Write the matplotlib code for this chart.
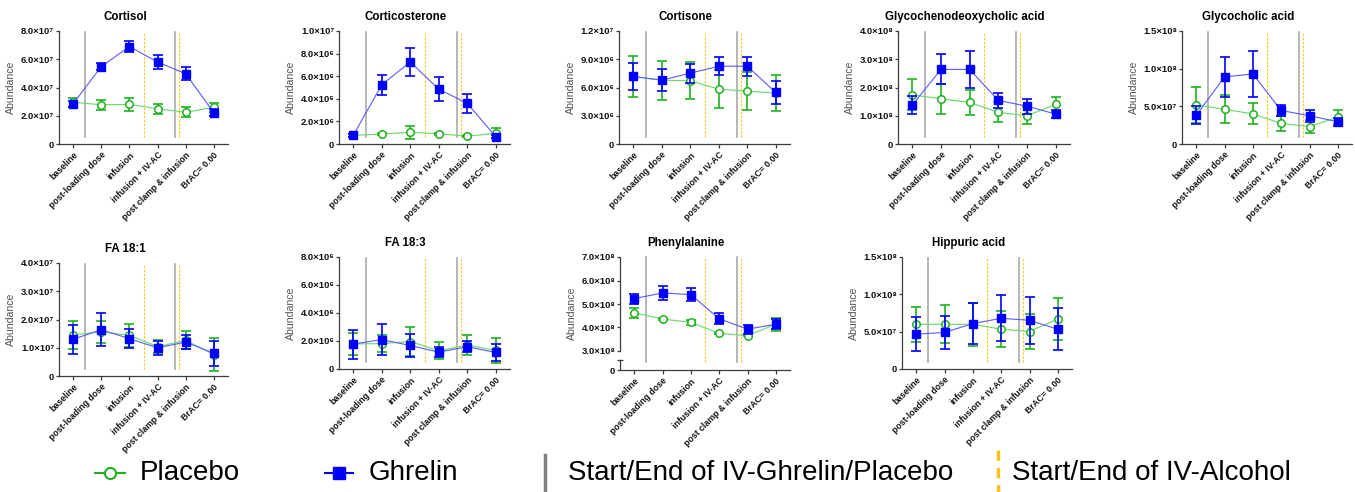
import numpy as np
import matplotlib.pyplot as plt
from matplotlib.lines import Line2D

plt.rcParams['font.family'] = ['Liberation Sans', 'DejaVu Sans']

timepoints = ['baseline', 'post-loading dose', 'infusion', 'infusion + IV-AC',
              'post clamp & infusion', 'BrAC= 0.00']

# mean / error per metabolite
cortisol_placebo = np.array([2.95, 2.78, 2.80, 2.50, 2.24, 2.60]) * 1e7
cortisol_placebo_err = np.array([0.30, 0.35, 0.45, 0.35, 0.35, 0.30]) * 1e7
cortisol_ghrelin = np.array([2.85, 5.48, 6.90, 5.80, 4.97, 2.20]) * 1e7
cortisol_ghrelin_err = np.array([0.20, 0.22, 0.42, 0.48, 0.45, 0.25]) * 1e7

corticosterone_placebo = np.array([0.76, 0.88, 1.03, 0.91, 0.68, 0.97]) * 1e6
corticosterone_placebo_err = np.array([0.10, 0.10, 0.55, 0.10, 0.10, 0.45]) * 1e6
corticosterone_ghrelin = np.array([0.76, 5.24, 7.26, 4.85, 3.60, 0.65]) * 1e6
corticosterone_ghrelin_err = np.array([0.12, 0.88, 1.25, 1.05, 0.82, 0.15]) * 1e6

cortisone_placebo = np.array([7.17, 6.78, 6.71, 5.82, 5.61, 5.40]) * 1e6
cortisone_placebo_err = np.array([2.15, 2.07, 1.97, 2.00, 2.00, 1.90]) * 1e6
cortisone_ghrelin = np.array([7.17, 6.78, 7.52, 8.26, 8.26, 5.47]) * 1e6
cortisone_ghrelin_err = np.array([1.48, 1.20, 0.99, 0.95, 1.00, 1.20]) * 1e6

gcdca_placebo = np.array([1.74, 1.60, 1.47, 1.12, 1.00, 1.40]) * 1e8
gcdca_placebo_err = np.array([0.55, 0.53, 0.44, 0.35, 0.30, 0.26]) * 1e8
gcdca_ghrelin = np.array([1.38, 2.64, 2.64, 1.54, 1.34, 1.06]) * 1e8
gcdca_ghrelin_err = np.array([0.32, 0.53, 0.66, 0.28, 0.27, 0.15]) * 1e8

glycocholic_placebo = np.array([5.20, 4.60, 4.00, 2.73, 2.30, 3.57]) * 1e7
glycocholic_placebo_err = np.array([2.40, 1.85, 1.40, 0.95, 0.85, 0.88]) * 1e7
glycocholic_ghrelin = np.array([3.80, 8.90, 9.30, 4.45, 3.75, 2.95]) * 1e7
glycocholic_ghrelin_err = np.array([1.20, 2.60, 3.00, 0.75, 0.80, 0.55]) * 1e7

fa181_placebo = np.array([1.46, 1.56, 1.44, 1.04, 1.26, 0.76]) * 1e7
fa181_placebo_err = np.array([0.50, 0.38, 0.40, 0.22, 0.32, 0.60]) * 1e7
fa181_ghrelin = np.array([1.30, 1.64, 1.32, 1.00, 1.20, 0.80]) * 1e7
fa181_ghrelin_err = np.array([0.51, 0.58, 0.33, 0.25, 0.25, 0.45]) * 1e7

fa183_placebo = np.array([1.78, 1.82, 1.96, 1.30, 1.70, 1.33]) * 1e6
fa183_placebo_err = np.array([0.76, 0.62, 1.06, 0.62, 0.70, 0.90]) * 1e6
fa183_ghrelin = np.array([1.78, 2.10, 1.68, 1.20, 1.59, 1.18]) * 1e6
fa183_ghrelin_err = np.array([1.04, 1.09, 0.82, 0.35, 0.38, 0.64]) * 1e6

phe_placebo = np.array([4.63, 4.36, 4.22, 3.75, 3.65, 4.14]) * 1e8
phe_placebo_err = np.array([0.22, 0.03, 0.10, 0.03, 0.03, 0.27]) * 1e8
phe_ghrelin = np.array([5.23, 5.47, 5.40, 4.37, 3.93, 4.14]) * 1e8
phe_ghrelin_err = np.array([0.21, 0.30, 0.27, 0.23, 0.19, 0.21]) * 1e8

hippuric_placebo = np.array([5.99, 5.99, 5.99, 5.33, 5.02, 6.70]) * 1e7
hippuric_placebo_err = np.array([2.33, 2.55, 2.90, 2.42, 2.30, 2.75]) * 1e7
hippuric_ghrelin = np.array([4.66, 4.90, 6.08, 6.79, 6.52, 5.33]) * 1e7
hippuric_ghrelin_err = np.array([2.30, 2.20, 2.78, 3.06, 3.15, 2.82]) * 1e7

# infusion start/end markers (in category units)
ghrelin_marks = [0.43, 3.63]
alcohol_marks = [2.51, 3.77]

GREEN, GREEN_L = '#1fb21f', '#66d966'
BLUE, BLUE_L = '#0000ff', '#5a5aff'
AXC = '#3c3c3c'
GRAY = '#aaaaaa'
ORANGE = '#ffc21a'

W, H = 1355, 492
fig = plt.figure(figsize=(W / 100, H / 100), dpi=100)


def axes_px(x0, y0, x1, y1):
    return fig.add_axes([x0 / W, 1 - y1 / H, (x1 - x0) / W, (y1 - y0) / H])


SUP = str.maketrans('0123456789', '⁰¹²³⁴⁵⁶⁷⁸⁹')


def sci_label(v):
    if v == 0:
        return '0'
    e = int(np.floor(np.log10(abs(v)) + 1e-9))
    return f'{v / 10 ** e:.1f}×10' + str(e).translate(SUP)


def base_style(ax):
    for s in ['top', 'right']:
        ax.spines[s].set_visible(False)
    for s in ['left', 'bottom']:
        ax.spines[s].set_color(AXC)
        ax.spines[s].set_linewidth(0.9)
    ax.tick_params(colors=AXC, width=0.9, labelcolor='#111111')
    ax.tick_params(axis='y', length=2.5, pad=1)
    ax.tick_params(axis='x', length=3, pad=1.5)
    ax.set_xlim(-0.5, 5.5)
    ax.patch.set_alpha(0)


def set_xlabels(ax):
    ax.set_xticks(range(len(timepoints)))
    ax.set_xticklabels(timepoints, rotation=45, ha='right', rotation_mode='anchor',
                       fontsize=6.3, fontweight='bold')


def vlines(ax, lo, hi):
    for xm in ghrelin_marks:
        ax.axvline(xm, ymin=lo, ymax=hi, color=GRAY, lw=1.2, clip_on=False, zorder=1)
    for xm in alcohol_marks:
        ax.axvline(xm, ymin=lo, ymax=hi, color=ORANGE, lw=0.8, ls=(0, (2, 1.5)),
                   clip_on=False, zorder=1)


def draw_series(ax, pl, pl_err, gh, gh_err):
    x = np.arange(len(timepoints))
    ax.plot(x, pl, color=GREEN_L, lw=0.8, zorder=3)
    ax.errorbar(x, pl, yerr=pl_err, fmt='none', ecolor=GREEN, elinewidth=1.2,
                capsize=3.5, capthick=1.2, zorder=3)
    ax.plot(x, pl, 'o', ms=5.4, mfc='white', mec=GREEN, mew=1.1, zorder=4)
    ax.plot(x, gh, color=BLUE_L, lw=0.8, zorder=5)
    ax.errorbar(x, gh, yerr=gh_err, fmt='none', ecolor=BLUE, elinewidth=1.2,
                capsize=3.5, capthick=1.2, zorder=5)
    ax.plot(x, gh, 's', ms=5.2, mfc=BLUE, mec=BLUE, zorder=6)


def finish(ax, title, ticks, label_off):
    ax.set_ylim(ticks[0], ticks[-1])
    ax.set_yticks(ticks, labels=[sci_label(v) for v in ticks],
                  fontsize=6.8, fontweight='bold')
    ax.set_title(title, fontsize=8.3, fontweight='bold', x=0.39, pad=8)
    ax.set_ylabel('Abundance', fontsize=7.6, color='#555555')
    ax.yaxis.set_label_coords(label_off, 0.5)


panels = [
    ('Cortisol', cortisol_placebo, cortisol_placebo_err, cortisol_ghrelin, cortisol_ghrelin_err,
     np.arange(0, 8.1e7, 2e7), (59, 31, 228, 144)),
    ('Corticosterone', corticosterone_placebo, corticosterone_placebo_err,
     corticosterone_ghrelin, corticosterone_ghrelin_err,
     np.arange(0, 10.1e6, 2e6), (339, 31, 510, 144)),
    ('Cortisone', cortisone_placebo, cortisone_placebo_err, cortisone_ghrelin, cortisone_ghrelin_err,
     np.arange(0, 12.1e6, 3e6), (619, 31, 790, 144)),
    ('Glycochenodeoxycholic acid', gcdca_placebo, gcdca_placebo_err, gcdca_ghrelin, gcdca_ghrelin_err,
     np.arange(0, 4.1e8, 1e8), (898, 31, 1070, 144)),
    ('Glycocholic acid', glycocholic_placebo, glycocholic_placebo_err,
     glycocholic_ghrelin, glycocholic_ghrelin_err,
     np.arange(0, 1.51e8, 5e7), (1182, 31, 1352, 144)),
    ('FA 18:1', fa181_placebo, fa181_placebo_err, fa181_ghrelin, fa181_ghrelin_err,
     np.arange(0, 4.1e7, 1e7), (59, 263, 228, 376)),
    ('FA 18:3', fa183_placebo, fa183_placebo_err, fa183_ghrelin, fa183_ghrelin_err,
     np.arange(0, 8.1e6, 2e6), (339, 257, 510, 369)),
    ('Hippuric acid', hippuric_placebo, hippuric_placebo_err, hippuric_ghrelin, hippuric_ghrelin_err,
     np.arange(0, 1.51e8, 5e7), (902, 257, 1072, 369)),
]

for title, pl, pl_err, gh, gh_err, ticks, box in panels:
    ax = axes_px(*box)
    base_style(ax)
    vlines(ax, 0.065, 0.995)
    draw_series(ax, pl, pl_err, gh, gh_err)
    set_xlabels(ax)
    finish(ax, title, ticks, -43 / (box[2] - box[0]))

# Phenylalanine: broken y axis (0 | 3e8 - 7e8)
x0, x1 = 620, 790
ax_t = axes_px(x0, 257, x1, 351)
ax_b = axes_px(x0, 351, x1, 370)
base_style(ax_t)
base_style(ax_b)
ax_t.spines['bottom'].set_visible(False)
ax_t.tick_params(axis='x', bottom=False, labelbottom=False)
vlines(ax_t, -11 / 94, 0.995)
draw_series(ax_t, phe_placebo, phe_placebo_err, phe_ghrelin, phe_ghrelin_err)
finish(ax_t, 'Phenylalanine', np.arange(3e8, 7.1e8, 1e8), -43 / (x1 - x0))
ax_t.yaxis.set_label_coords(-43 / (x1 - x0), 0.4)
ax_b.set_ylim(0, 1)
ax_b.spines['left'].set_bounds(0, 10 / 19)
ax_b.set_yticks([0], labels=['0'], fontsize=6.8, fontweight='bold')
ax_b.set_yticks([10 / 19], minor=True)
ax_b.tick_params(axis='y', which='minor', direction='inout', length=4, width=0.9, colors=AXC)
set_xlabels(ax_b)

# legend
def fx(px):
    return px / W


def fy(py):
    return 1 - py / H


ly = 473
fig.add_artist(Line2D([fx(95), fx(125)], [fy(ly), fy(ly)], color=GREEN, lw=1.5,
                      transform=fig.transFigure))
fig.add_artist(Line2D([fx(110)], [fy(ly)], marker='o', ms=8, mfc='white', mec=GREEN, mew=1.5,
                      transform=fig.transFigure))
fig.text(fx(140), fy(ly), 'Placebo', fontsize=20, va='center', ha='left')
fig.add_artist(Line2D([fx(325), fx(353)], [fy(ly), fy(ly)], color=BLUE, lw=1.5,
                      transform=fig.transFigure))
fig.add_artist(Line2D([fx(339)], [fy(ly)], marker='s', ms=9, mfc=BLUE, mec=BLUE,
                      transform=fig.transFigure))
fig.text(fx(369), fy(ly), 'Ghrelin', fontsize=20, va='center', ha='left')
fig.add_artist(Line2D([fx(545), fx(545)], [fy(455), fy(490)], color='#808080', lw=2.5,
                      transform=fig.transFigure))
fig.text(fx(568), fy(ly), 'Start/End of IV-Ghrelin/Placebo', fontsize=20, va='center', ha='left')
fig.add_artist(Line2D([fx(998), fx(998)], [fy(450), fy(492)], color=ORANGE, lw=2.5,
                      ls=(0, (3, 2)), transform=fig.transFigure))
fig.text(fx(1012), fy(ly), 'Start/End of IV-Alcohol', fontsize=20, va='center', ha='left')

fig.savefig('out.png', dpi=100)
